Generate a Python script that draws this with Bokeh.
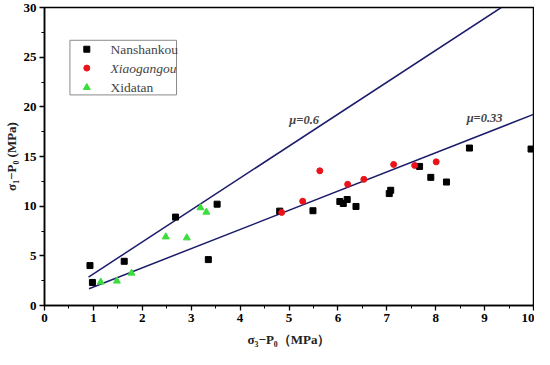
from bokeh.plotting import figure
from bokeh.models import Label, FixedTicker, Range1d
from bokeh.embed import file_html
from bokeh.resources import INLINE

# Data
nan_x = [0.93, 0.98, 1.63, 2.68, 3.53, 3.35, 4.81, 5.49, 6.04, 6.11, 6.19, 6.37,
         7.05, 7.08, 7.67, 7.90, 8.22, 8.69, 9.95]
nan_y = [4.02, 2.32, 4.45, 8.90, 10.2, 4.62, 9.50, 9.54, 10.47, 10.27, 10.67, 9.97,
         11.27, 11.6, 14.0, 12.9, 12.43, 15.85, 15.75]
xia_x = [4.85, 5.28, 5.63, 6.20, 6.53, 7.14, 7.57, 8.01]
xia_y = [9.37, 10.5, 13.56, 12.2, 12.7, 14.2, 14.1, 14.46]
xid_x = [1.15, 1.48, 1.78, 2.48, 2.91, 3.19, 3.31]
xid_y = [2.36, 2.46, 3.26, 6.91, 6.81, 9.84, 9.40]
fit06_x = [0.90, 9.34]
fit06_y = [2.86, 30.0]
fit033_x = [0.91, 10.0]
fit033_y = [1.69, 19.24]
x_ticks = [0, 1, 2, 3, 4, 5, 6, 7, 8, 9, 10]
y_ticks = [0, 5, 10, 15, 20, 25, 30]
series_names = ["Nanshankou", "Xiaogangou", "Xidatan"]

SERIF = "Liberation Serif"
LINE = "#1c1c6b"

p = figure(width=534, height=349, output_backend="svg", toolbar_location=None,
           x_range=Range1d(0, 10), y_range=Range1d(0, 30),
           min_border_left=36, min_border_right=1, min_border_top=7, min_border_bottom=40)
p.grid.visible = False
p.outline_line_color = "black"
p.outline_line_width = 1.5
p.background_fill_color = "white"

for ax in (p.xaxis[0], p.yaxis[0]):
    ax.axis_line_width = 1.5
    ax.major_tick_line_width = 1.3
    ax.minor_tick_line_width = 1.0
    ax.major_tick_out = 5
    ax.major_tick_in = 0
    ax.minor_tick_out = 3
    ax.minor_tick_in = 0
    ax.major_label_text_font = SERIF
    ax.major_label_text_font_style = "bold"
    ax.major_label_text_font_size = "13px"
    ax.major_label_text_color = "black"
    ax.axis_label_text_font = SERIF
    ax.axis_label_text_font_style = "bold"
    ax.axis_label_text_font_size = "13px"
    ax.axis_label_text_color = "#222222"
p.xaxis.ticker = FixedTicker(ticks=x_ticks, minor_ticks=[i * 0.5 for i in range(21)])
p.yaxis.ticker = FixedTicker(ticks=y_ticks, minor_ticks=[i * 2.5 for i in range(13)])
p.xaxis.major_label_standoff = 3
p.yaxis.major_label_standoff = 3
p.xaxis.axis_label = "σ₃−P₀（MPa）"
p.yaxis.axis_label = "σ₁−P₀ (MPa)"
p.xaxis.axis_label_standoff = 7
p.yaxis.axis_label_standoff = 2

p.line(fit06_x, fit06_y, line_color=LINE, line_width=1.5)
p.line(fit033_x, fit033_y, line_color=LINE, line_width=1.5)

p.scatter(nan_x, nan_y, marker="square", size=6, color="black")
p.scatter(xia_x, xia_y, marker="circle", size=6, color="#e8141a")
p.scatter(xid_x, xid_y, marker="triangle", size=7, color="#3ddc3d")

for txt, x, y in [("μ=0.6", 5.31, 18.7), ("μ=0.33", 9.0, 18.9)]:
    p.add_layout(Label(x=x, y=y, text=txt, text_font=SERIF, text_font_style="bold italic",
                       text_font_size="12.5px", text_align="center", text_baseline="middle"))

# Legend (custom)
p.quad(left=[0.52], right=[2.70], bottom=[21.2], top=[26.7],
       fill_color="white", line_color="#8a8a8a", line_width=1)
p.scatter([0.865], [25.8], marker="square", size=6, color="black")
p.scatter([0.865], [23.9], marker="circle", size=6, color="#e8141a")
p.scatter([0.865], [21.95], marker="triangle", size=7, color="#3ddc3d")
for txt, y, st in [(series_names[0], 25.8, "normal"), (series_names[1], 23.9, "italic"),
                   (series_names[2], 21.95, "normal")]:
    p.add_layout(Label(x=1.35, y=y, text=txt, text_font=SERIF, text_font_style=st,
                       text_font_size="13.5px", text_baseline="middle"))

open("out.html", "w").write(file_html(p, INLINE))
